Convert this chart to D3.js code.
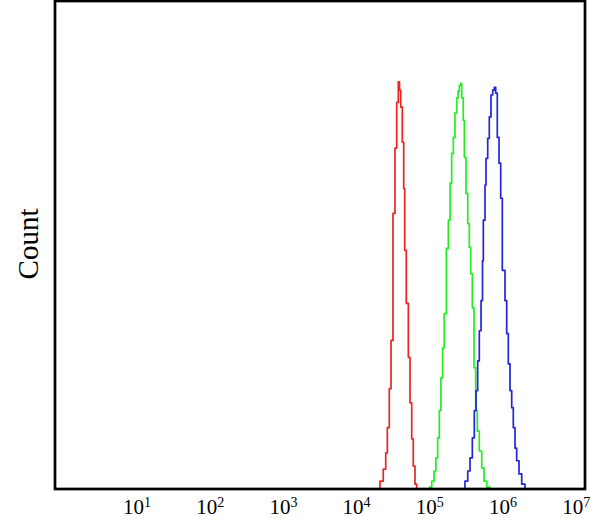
<!DOCTYPE html>
<html><head><meta charset="utf-8">
<script src="https://cdn.jsdelivr.net/npm/d3@7"></script>
<style>body{margin:0;background:#fff}svg{display:block}</style>
</head><body>
<svg id="c" width="610" height="531"></svg>
<script>
// Tick exponents (labels 10^n)
const tickExponents = [1, 2, 3, 4, 5, 6, 7];
// Histograms: bin start intensity and count (step after)
const redX = [20100, 21200, 23500, 25400, 26700, 28400, 30000, 31900, 34000, 35900, 37700, 39200, 40700, 42800, 44700, 46100, 48500, 51700, 54500, 57500, 60400, 63800, 67300, 71200];
const redY = [0, 1.6, 4.1, 7.4, 12.6, 20.6, 30.5, 56.6, 70.0, 79.4, 83.6, 81.9, 78.4, 71.2, 61.7, 49.0, 38.1, 27.0, 17.7, 10.3, 4.7, 1.0, 0, 0];
const greenX = [87400, 101000, 108000, 116000, 123000, 130000, 137000, 144000, 152000, 160000, 171000, 182000, 192000, 202000, 213000, 224000, 237000, 247000, 257000, 269000, 277000, 291000, 301000, 317000, 335000, 352000, 368000, 387000, 408000, 430000, 453000, 482000, 520000, 559000, 609000, 675000];
const greenY = [0, 0.4, 1.6, 3.7, 6.4, 10.5, 16.1, 22.8, 29.0, 36.0, 49.4, 55.2, 62.8, 68.9, 72.2, 77.2, 80.3, 81.7, 82.9, 83.3, 80.3, 75.7, 68.1, 60.7, 54.5, 49.6, 44.2, 37.2, 24.9, 16.1, 11.9, 7.8, 4.3, 1.6, 0.4, 0];
const blueX = [263000, 307000, 335000, 360000, 387000, 412000, 435000, 458000, 482000, 509000, 533000, 547000, 577000, 595000, 628000, 660000, 696000, 735000, 773000, 807000, 849000, 896000, 945000, 994000, 1082000, 1141000, 1200000, 1266000, 1336000, 1404000, 1482000, 1563000, 1681000, 1830000, 2030000, 2161000];
const blueY = [0, 1.6, 3.7, 6.4, 10.5, 16.1, 20.2, 26.3, 32.5, 38.7, 46.9, 55.2, 62.4, 67.9, 72.0, 76.4, 80.9, 81.9, 82.5, 81.3, 72.2, 66.9, 59.7, 44.9, 38.7, 31.9, 25.7, 20.2, 16.7, 12.6, 8.4, 5.8, 3.1, 1.0, 0, 0];
const seriesNames = ["red", "green", "blue"];
const seriesColors = ["#ee2424", "#22ee22", "#2424dd"];

const svg = d3.select("#c");
const L = 55, R = 585, T = 1, B = 489;
const x = d3.scaleLog().domain([Math.pow(10, -0.1134), Math.pow(10, 7.127)]).range([L, R]);
const y = d3.scaleLinear().domain([0, 100]).range([B, T + 1]);

svg.append("clipPath").attr("id", "clip").append("rect")
  .attr("x", L).attr("y", T).attr("width", R - L).attr("height", B - T);

const line = d3.line().x(d => x(d[0])).y(d => y(d[1])).curve(d3.curveStepAfter);
const data = [d3.zip(redX, redY), d3.zip(greenX, greenY), d3.zip(blueX, blueY)];
const g = svg.append("g").attr("clip-path", "url(#clip)");
data.forEach((d, i) => {
  g.append("path").datum(d).attr("d", line)
    .attr("fill", "none").attr("stroke", seriesColors[i]).attr("stroke-width", 1.7)
    .attr("stroke-linejoin", "round")
    .attr("class", "series-" + seriesNames[i]);
});

// frame
svg.append("rect").attr("x", L).attr("y", T).attr("width", R - L).attr("height", B - T)
  .attr("fill", "none").attr("stroke", "#000").attr("stroke-width", 2.7);

// x axis labels
const ax = svg.append("g").attr("transform", `translate(0,${B})`)
  .call(d3.axisBottom(x).tickValues(tickExponents.map(e => Math.pow(10, e))).tickSize(0).tickFormat(""));
ax.select(".domain").remove();
ax.selectAll(".tick").each(function(v, i) {
  const t = d3.select(this).append("text")
    .attr("y", 25).attr("text-anchor", "middle").attr("fill", "#000")
    .style("font-family", "'Liberation Serif', 'DejaVu Serif', serif").style("font-size", "21px");
  t.append("tspan").text("10");
  t.append("tspan").attr("dy", -7).style("font-size", "14px").text(String(tickExponents[i]));
});

// y label
svg.append("text").attr("transform", "translate(38,244) rotate(-90)")
  .attr("text-anchor", "middle").attr("fill", "#000")
  .style("font-family", "'Liberation Serif', 'DejaVu Serif', serif").style("font-size", "29px")
  .text("Count");
</script>
</body></html>
